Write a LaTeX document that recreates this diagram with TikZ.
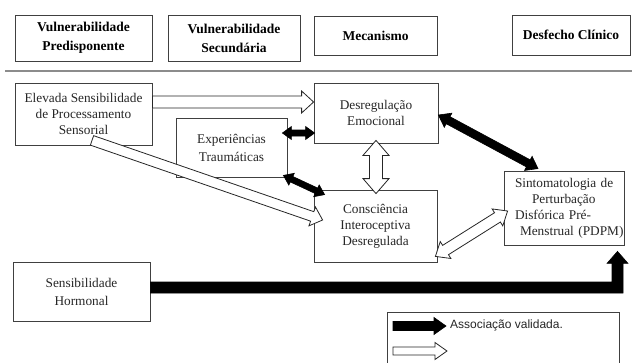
\documentclass[tikz,border=0pt]{standalone}
\usepackage{fontspec}
\setmainfont{Liberation Serif}
\newfontfamily\legfont{Liberation Sans}
\usetikzlibrary{calc}

% single block arrow: style, A, B, shaft half width, head half width, head length
\newcommand{\sarr}[6]{%
  \coordinate (saC) at ($(#3)!#6!(#2)$);
  \draw[#1] ($(#2)!#4!90:(#3)$) -- ($(saC)!#4!90:(#3)$) -- ($(saC)!#5!90:(#3)$) -- (#3)
    -- ($(saC)!#5!-90:(#3)$) -- ($(saC)!#4!-90:(#3)$) -- ($(#2)!#4!-90:(#3)$) -- cycle;}
% double block arrow
\newcommand{\darr}[6]{%
  \coordinate (daCa) at ($(#2)!#6!(#3)$);
  \coordinate (daCb) at ($(#3)!#6!(#2)$);
  \draw[#1] (#2) -- ($(daCa)!#5!90:(#3)$) -- ($(daCa)!#4!90:(#3)$) -- ($(daCb)!#4!90:(#3)$)
    -- ($(daCb)!#5!90:(#3)$) -- (#3) -- ($(daCb)!#5!-90:(#3)$) -- ($(daCb)!#4!-90:(#3)$)
    -- ($(daCa)!#4!-90:(#3)$) -- ($(daCa)!#5!-90:(#3)$) -- cycle;}

\tikzset{
  box/.style={draw=black!75, line width=0.8pt, inner sep=0pt, align=center,
    text=black!85, font={\fontsize{13.3}{16}\selectfont}},
  boxwide/.style={box, font={\fontsize{13.3}{18}\selectfont}},
  hbox/.style={box, text=black, font={\fontsize{13.5}{19}\selectfont\bfseries}},
  blk/.style={fill=black, draw=black, line width=0.6pt, line join=miter},
  wht/.style={fill=white, draw=black!85, line width=0.8pt, line join=miter},
  sepline/.style={draw=black!45, line width=2pt},
  legline/.style={draw=black!75, line width=1pt},
}

\begin{document}
\begin{tikzpicture}[x=1pt,y=-1pt]
\useasboundingbox[fill=white] (0,0) rectangle (632,362);

% header
\node[hbox, minimum width=137pt, minimum height=46pt] (h1) at (83.5,38) {Vulnerabilidade\\Predisponente};
\node[hbox, minimum width=132pt, minimum height=46pt] (h2) at (234,38) {Vulnerabilidade\\Secundária};
\node[hbox, minimum width=123pt, minimum height=39pt] (h3) at (375.5,35.5) {Mecanismo};
\node[hbox, minimum width=118pt, minimum height=40pt] (h4) at (571,35) {Desfecho Clínico};
\draw[sepline] (5,71) -- (632,71);

% boxes
\node[box, minimum width=137pt, minimum height=62pt] (elev) at (83.5,114) {Elevada Sensibilidade\\de Processamento\\Sensorial};
\node[boxwide, minimum width=111pt, minimum height=59pt] (exp) at (231.5,147.5) {Experiências\\Traumáticas};
\node[box, minimum width=124pt, minimum height=60pt] (desE) at (376,113) {Desregulação\\Emocional};
\node[box, minimum width=123pt, minimum height=72pt] (cons) at (375.5,226) {Consciência\\Interoceptiva\\Desregulada};
\node[box, minimum width=120pt, minimum height=74pt, align=left, text width=116pt] (sint) at (564,208)
  {\mbox{\hspace*{9pt}Sintomatologia de}\\\mbox{\hspace*{26pt}Perturbação}\\\mbox{\hspace*{9pt}Disfórica Pré-}\\\mbox{\hspace*{14pt}Menstrual (PDPM)}};
\node[boxwide, minimum width=137pt, minimum height=59pt] (horm) at (81.5,291.5) {Sensibilidade\\Hormonal};

% arrows
\coordinate (a1s) at ([yshift=12pt]elev.east);
\coordinate (a1e) at (desE.west |- a1s);
\sarr{wht}{a1s}{a1e}{6pt}{11pt}{12pt}

\coordinate (a2s) at ([xshift=-5pt,yshift=14.5pt]exp.east);
\coordinate (a2e) at ($(desE.west |- a2s)+(1,0)$);
\darr{blk}{a2s}{a2e}{3pt}{6.5pt}{9pt}

\coordinate (a3s) at ([xshift=-4pt,yshift=2pt]exp.south east);
\coordinate (a3e) at ([xshift=11pt,yshift=-5pt]cons.north west);
\darr{blk}{a3s}{a3e}{3pt}{6.5pt}{9pt}

\coordinate (a4s) at ([xshift=8.5pt,yshift=5pt]elev.south);
\coordinate (a4e) at ([xshift=9pt,yshift=6pt]cons.west);
\sarr{wht}{a4s}{a4e}{5pt}{10pt}{11pt}

\coordinate (a5s) at ([yshift=3pt]desE.south);
\coordinate (a5e) at ($(a5s |- cons.north)+(0,4)$);
\darr{wht}{a5s}{a5e}{6.5pt}{13pt}{15pt}

\coordinate (a6s) at ([yshift=-2pt]desE.east);
\coordinate (a6e) at ([xshift=-26pt,yshift=2pt]sint.north);
\darr{blk}{a6s}{a6e}{4pt}{8pt}{11pt}

\coordinate (a7s) at ([xshift=-2pt,yshift=6pt]cons.south east);
\coordinate (a7e) at ([xshift=4pt,yshift=-3pt]sint.west);
\darr{wht}{a7s}{a7e}{5.5pt}{10pt}{12pt}

% L-shaped arrow
\coordinate (hA) at ([yshift=4pt]horm.east);
\coordinate (hT) at ([xshift=53.5pt,yshift=-6pt]sint.south);
\coordinate (hK) at (hT |- hA);
\draw[blk] ($(hA)+(0,-5.5)$) -- ($(hK)+(-5.5,-5.5)$) -- ($(hT)+(-5.5,12)$) -- ($(hT)+(-10.5,12)$)
  -- (hT) -- ($(hT)+(10.5,12)$) -- ($(hT)+(5.5,12)$) -- ($(hK)+(5.5,5.5)$) -- ($(hA)+(0,5.5)$) -- cycle;

% legend
\draw[legline] (387,363) |- (619,312) -- (619,363);
\coordinate (l1a) at (393,326);
\coordinate (l1b) at (446,326);
\sarr{blk}{l1a}{l1b}{4.5pt}{8.5pt}{12pt}
\node[anchor=west, inner sep=0pt, text=black!85, font={\legfont\fontsize{12}{14}\selectfont}] (legt) at (450,325) {Associação validada.};
\coordinate (l2a) at (393,351);
\coordinate (l2b) at (447,351);
\sarr{wht}{l2a}{l2b}{4pt}{8.5pt}{12pt}
\end{tikzpicture}
\end{document}
